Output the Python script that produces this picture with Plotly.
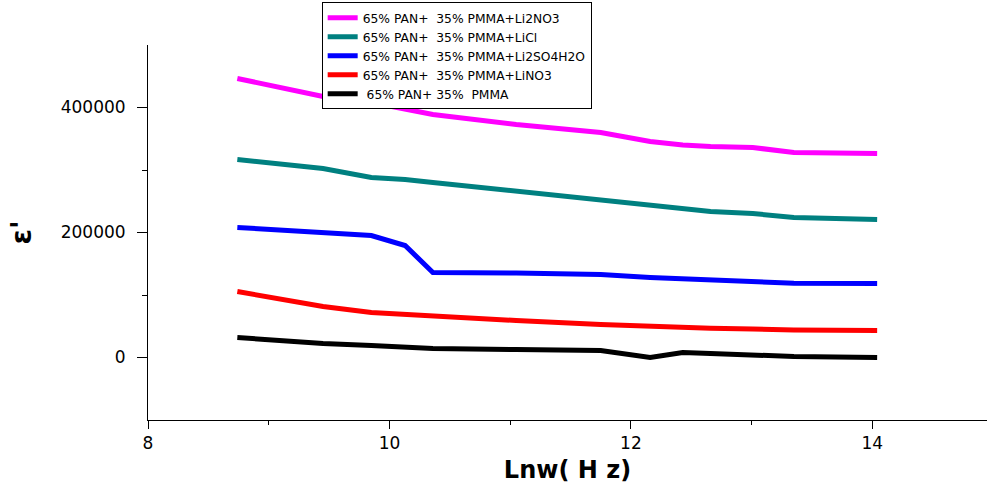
import plotly.graph_objects as go

# Data (x = ln(omega), y = epsilon')
x_vals = [8.74, 9.45, 9.85, 10.13, 10.36, 11.05, 11.75, 12.16, 12.43, 12.66, 13.01, 13.35, 14.04]

y_li2no3 = [446400, 417600, 408000, 398400, 388800, 372800, 360000, 345600, 340000, 337600, 336000, 328000, 326400]
y_licl = [316800, 302400, 288000, 284800, 280000, 265600, 251200, 243200, 238400, 233600, 230400, 224000, 220800]
y_li2so4 = [208000, 200000, 195200, 179200, 136000, 135200, 132800, 128000, 125600, 123200, 121000, 119000, 118400]
y_lino3 = [105600, 81600, 72000, 68800, 65600, 59200, 52800, 49600, 48000, 47000, 45600, 44000, 43200]
y_pmma = [32000, 22400, 19200, 17000, 14400, 12800, 11200, 0, 8000, 6400, 4000, 1600, 0]

series_names = [
    "65% PAN+\u00a0\u00a035% PMMA+Li2NO3",
    "65% PAN+\u00a0\u00a035% PMMA+LiCl",
    "65% PAN+\u00a0\u00a035% PMMA+Li2SO4H2O",
    "65% PAN+\u00a0\u00a035% PMMA+LiNO3",
    "\u00a065% PAN+ 35%\u00a0\u00a0PMMA",
]
series_values = [y_li2no3, y_licl, y_li2so4, y_lino3, y_pmma]
series_colors = ["#FF00FF", "#008080", "#0000FF", "#FF0000", "#000000"]

x_ticks = [8, 10, 12, 14]
y_ticks = [0, 200000, 400000]

fig = go.Figure()
for name, vals, col in zip(series_names, series_values, series_colors):
    fig.add_trace(go.Scatter(x=x_vals, y=vals, mode="lines", name=name,
                             line=dict(color=col, width=5)))

tick_font = dict(family="DejaVu Sans", size=17, color="black")

fig.update_layout(
    width=987, height=484,
    margin=dict(l=148, r=0, t=45, b=64),
    paper_bgcolor="white", plot_bgcolor="white",
    showlegend=True,
    legend=dict(
        x=0.207, y=1.114, xanchor="left", yanchor="top",
        bordercolor="black", borderwidth=1, bgcolor="white",
        font=dict(family="DejaVu Sans", size=12.3, color="black"),
        tracegroupgap=0,
    ),
    xaxis=dict(
        range=[8, 14.95], tickvals=x_ticks, ticktext=[str(v) for v in x_ticks],
        showgrid=False, zeroline=False, showline=True, linecolor="black", linewidth=1,
        ticks="outside", ticklen=8, tickcolor="black", tickfont=tick_font,
        minor=dict(tickvals=[9, 11, 13], ticks="outside", ticklen=4, tickcolor="black"),
        title=dict(text="<b>Lnw( H z)</b>", font=dict(family="DejaVu Sans", size=24, color="black"),
                   standoff=8),
    ),
    yaxis=dict(
        range=[-100000, 500000], tickvals=y_ticks, ticktext=[str(v) for v in y_ticks],
        showgrid=False, zeroline=False, showline=True, linecolor="black", linewidth=1,
        ticks="outside", ticklen=10, tickcolor="black", tickfont=tick_font,
        ticklabelstandoff=8,
        minor=dict(tickvals=[100000, 300000], ticks="outside", ticklen=5, tickcolor="black"),
        title=dict(text="<b>ε'</b>", font=dict(family="DejaVu Sans", size=28, color="black"),
                   standoff=20),
    ),
)

fig.write_html("out.html")
